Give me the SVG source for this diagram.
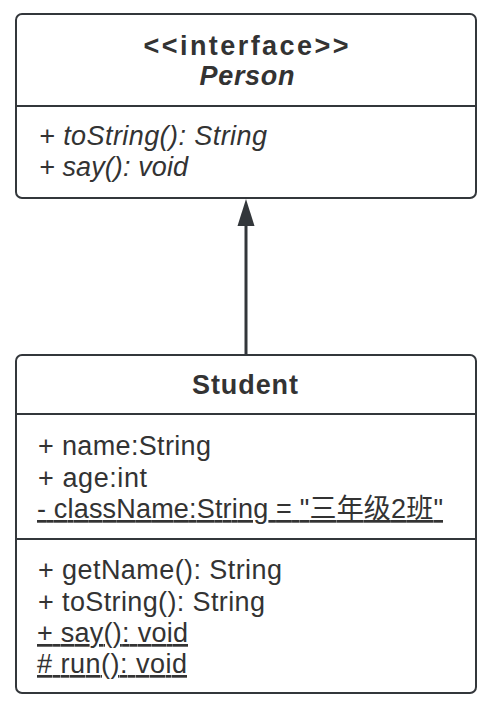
<svg xmlns="http://www.w3.org/2000/svg" width="492" height="702" viewBox="0 0 492 702">
<defs>
<style>
.box{fill:#fff;stroke:#33373b;stroke-width:2}
.div{stroke:#33373b;stroke-width:2}
text{font-family:"Liberation Sans","Noto Sans CJK SC",sans-serif;font-size:27px;fill:#333}
.b{font-weight:bold}
.i{font-style:italic}
.c{text-anchor:middle}
.u{text-decoration:underline}
</style>
</defs>
<rect width="492" height="702" fill="#fff"/>
<g id="connectors">
<line x1="246" y1="355" x2="246" y2="222" stroke="#33373b" stroke-width="3"/>
<polygon points="246,199 237.5,226 254.5,226" fill="#33373b"/>
</g>
<g id="person">
<rect class="box" x="16" y="14" width="460" height="184" rx="6"/>
<line class="div" x1="16" y1="106" x2="476" y2="106"/>
<text class="b c" x="246" y="55" textLength="205">&lt;&lt;interface&gt;&gt;</text>
<text class="b i c" x="247" y="85" textLength="95">Person</text>
<text class="i" x="39" y="145" textLength="228">+ toString(): String</text>
<text class="i" x="39" y="176" textLength="149">+ say(): void</text>
</g>
<g id="student">
<rect class="box" x="16" y="355" width="460" height="338" rx="6"/>
<line class="div" x1="16" y1="414" x2="476" y2="414"/>
<line class="div" x1="16" y1="539" x2="476" y2="539"/>
<text class="b c" x="245" y="394" textLength="106">Student</text>
<text x="38" y="455" textLength="173">+ name:String</text>
<text x="38" y="487" textLength="109">+ age:int</text>
<text class="u" x="37" y="518" textLength="406">- className:String = "三年级2班"</text>
<text x="38" y="579" textLength="244">+ getName(): String</text>
<text x="38" y="611" textLength="227">+ toString(): String</text>
<text class="u" x="37" y="642" textLength="151">+ say(): void</text>
<text class="u" x="37" y="673" textLength="150"># run(): void</text>
</g>
</svg>
